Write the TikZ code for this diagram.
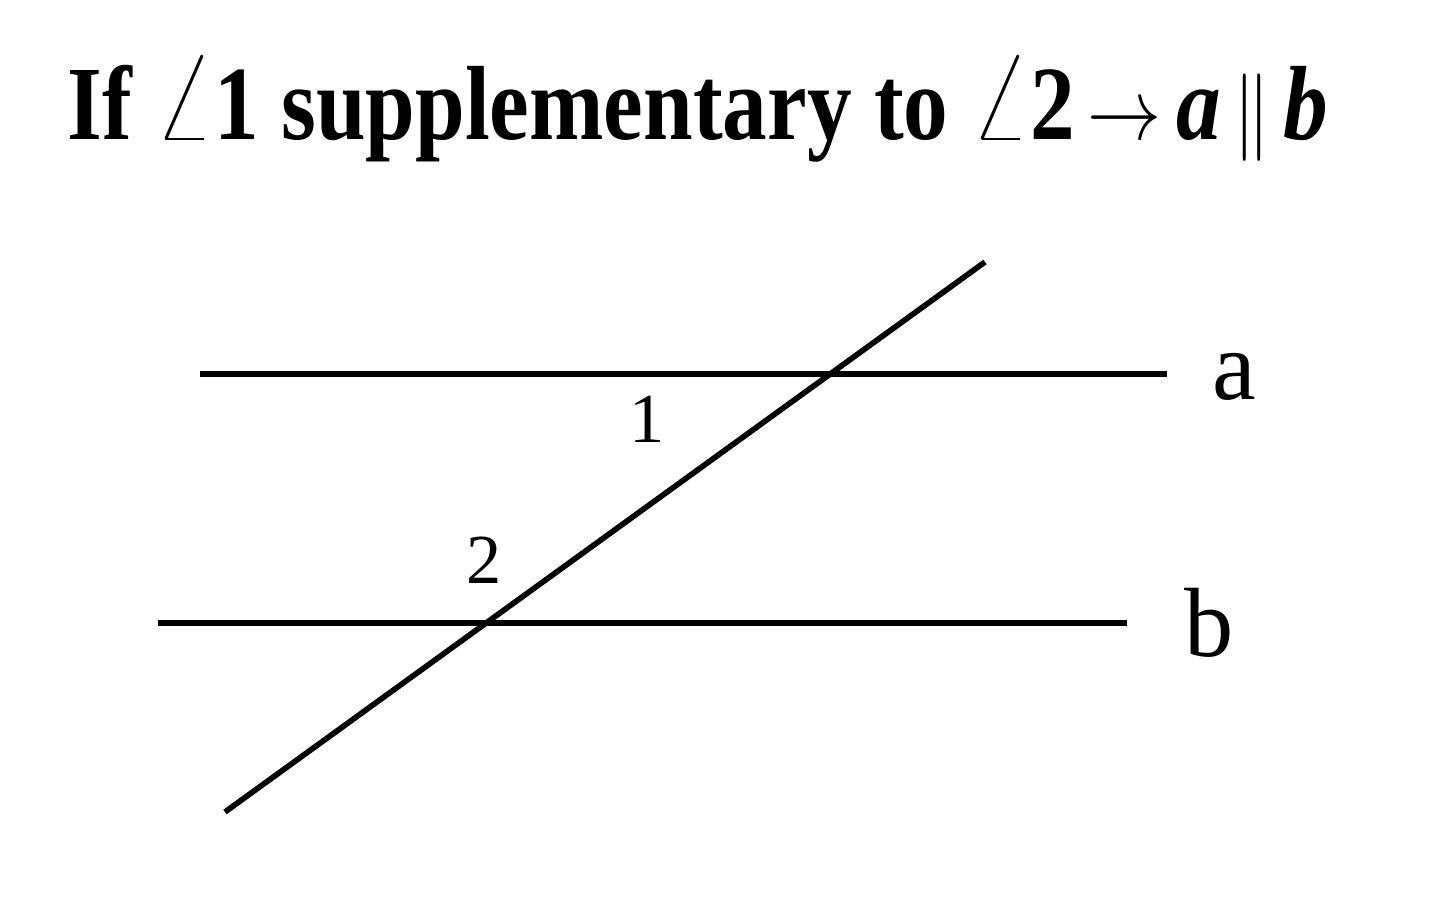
\documentclass[tikz,border=0pt]{standalone}
\usepackage{fontspec}
\setmainfont{Liberation Serif}
\usetikzlibrary{positioning}
\newcommand{\bigang}{\scalebox{1.25}{$\angle$}}

\begin{document}
\begin{tikzpicture}[line width=1.6pt,
	lbl/.style={anchor=base west, inner sep=0pt, font=\fontsize{28}{30}\selectfont},
	num/.style={anchor=base west, inner sep=0pt, font=\fontsize{20}{22}\selectfont}]
	\useasboundingbox (0,0) rectangle (14.4,9.16);
	% title
	\node[anchor=base west, inner sep=0pt] (title) at (0.65,7.76)
		{\resizebox{12.6cm}{\height}{\fontsize{30}{32}\selectfont\bfseries If \bigang1 supplementary to \bigang2$\,\rightarrow$\,\textit{a}$\,\|\,$\textit{b}}};
	% lines a and b
	\coordinate (aL) at (2.00,5.42);
	\coordinate (aR) at (11.67,5.42);
	\coordinate (bL) at (1.58,2.93);
	\coordinate (bR) at (11.27,2.93);
	\coordinate (tB) at (2.25,1.04);
	\coordinate (tT) at (9.85,6.54);
	\draw (aL) -- (aR);
	\draw (bL) -- (bR);
	\draw (tB) -- (tT);
	\node[lbl] (la) at (12.10,5.16) {a};
	\node[lbl] (lb) at (11.82,2.59) {b};
	\node[num] (n1) at (6.27,4.73) {1};
	\node[num] (n2) at (4.64,3.32) {2};
\end{tikzpicture}
\end{document}
